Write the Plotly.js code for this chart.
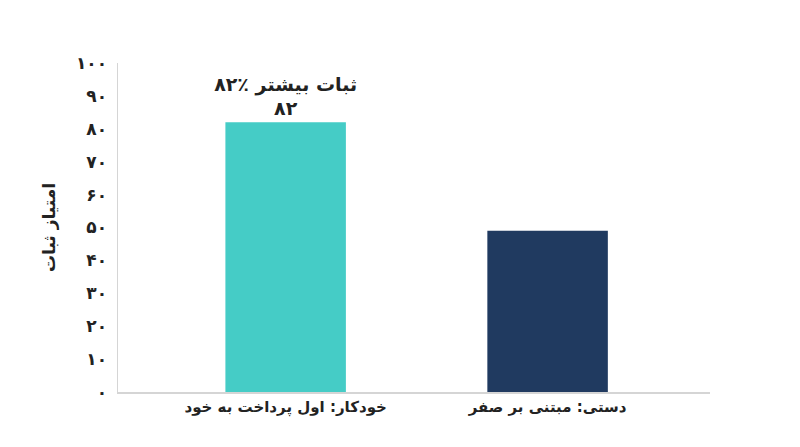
<!DOCTYPE html>
<html><head><meta charset="utf-8">
<script src="https://cdn.plot.ly/plotly-3.0.1.min.js"></script>
<style>html,body{margin:0;padding:0;background:#fff}#chart{width:800px;height:447px}</style>
</head><body><div id="chart"></div>
<script>
const categories = ['خودکار: اول پرداخت به خود', 'دستی: مبتنی بر صفر'];
const scores = [82, 49];
const barColors = ['#45CCC6', '#203A60'];
// call-out above the first bar only
const barLabels = ['۸۲٪ ثبات بیشتر<br>۸۲', ''];
const tickVals = [0, 10, 20, 30, 40, 50, 60, 70, 80, 90, 100];
const tickText = ['۰', '۱۰', '۲۰', '۳۰', '۴۰', '۵۰', '۶۰', '۷۰', '۸۰', '۹۰', '۱۰۰'];

const font = 'DejaVu Sans, Noto Sans, Arial';

Plotly.newPlot('chart', [{
  type: 'bar', x: categories, y: scores, width: 0.46,
  marker: {color: barColors},
  text: barLabels, textposition: 'outside', cliponaxis: false, constraintext: 'none',
  textfont: {family: font, size: 19, color: '#222', weight: 'bold'},
  hoverinfo: 'none'
}], {
  width: 800, height: 447,
  margin: {l: 118, r: 90, t: 63, b: 55},
  paper_bgcolor: '#fff', plot_bgcolor: '#fff',
  font: {family: font, color: '#222'},
  showlegend: false,
  xaxis: {range: [-0.64, 1.62], showline: true, linecolor: '#d5d5d5', linewidth: 1.5,
    ticks: '', tickfont: {size: 15, weight: 'bold', color: '#222'}, showgrid: false, fixedrange: true},
  yaxis: {range: [0, 100], tickvals: tickVals, ticktext: tickText, showline: true,
    linecolor: '#d5d5d5', linewidth: 1.5, showgrid: false, zeroline: false, ticks: '',
    ticklabelstandoff: 6,
    tickfont: {size: 17, weight: 'bold', color: '#222'},
    title: {text: 'امتیاز ثبات', font: {size: 17, weight: 'bold', color: '#222'}, standoff: 16}}
}, {displayModeBar: false, staticPlot: true});
</script></body></html>
